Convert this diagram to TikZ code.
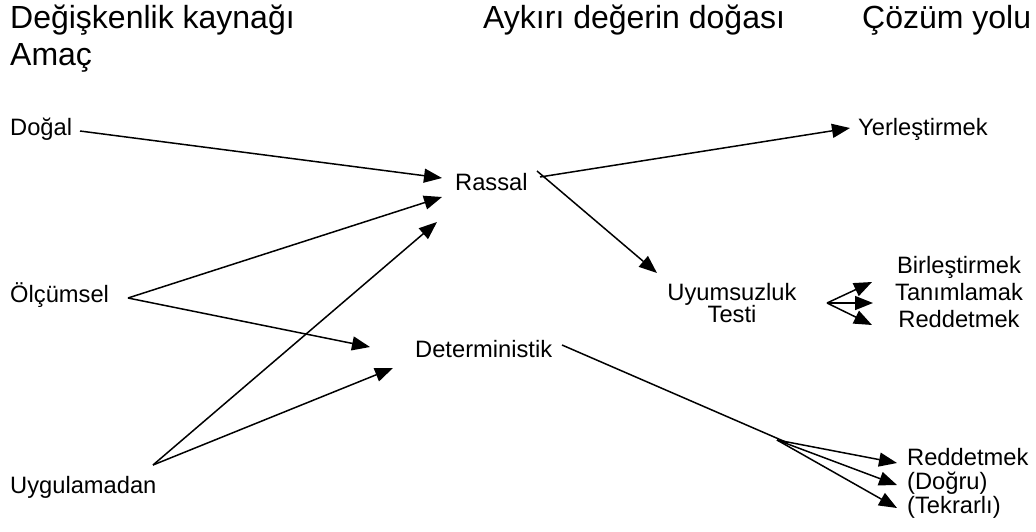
\documentclass[tikz,border=0pt]{standalone}
\usepackage{fontspec}
\setmainfont{Liberation Sans}
\usetikzlibrary{arrows.meta}
\begin{document}
\begin{tikzpicture}[x=1pt,y=-1pt,
  hdr/.style={font=\fontsize{32}{38}\selectfont, inner sep=0pt, anchor=base west},
  lbl/.style={font=\fontsize{23.7}{28}\selectfont, inner sep=0pt, anchor=base west},
  clbl/.style={font=\fontsize{23.7}{28}\selectfont, inner sep=0pt, anchor=base},
  arr/.style={-{Triangle[length=18pt,width=14pt]}, line width=1.5pt},
  ln/.style={line width=1.5pt}]
\useasboundingbox (0,0) rectangle (1036,531);
% headers
\node[hdr] (h1) at (10,28) {Değişkenlik kaynağı};
\node[hdr] (h2) at (10,65) {Amaç};
\node[hdr] (h3) at (483,28) {Aykırı değerin doğası};
\node[hdr] (h4) at (862,28) {Çözüm yolu};
% sources
\node[lbl] (dogal) at (10,135) {Doğal};
\node[lbl] (olcum) at (10,302) {Ölçümsel};
\node[lbl] (uygul) at (10,493) {Uygulamadan};
% nature
\node[lbl] (rassal) at (455,190) {Rassal};
\node[lbl] (determ) at (415,357) {Deterministik};
% solutions
\node[lbl] (yerles) at (858,135) {Yerleştirmek};
\node[clbl] (uyum) at (732,300) {Uyumsuzluk};
\node[clbl] (testi) at (732,322) {Testi};
\node[clbl] (birles) at (959,273) {Birleştirmek};
\node[clbl] (tanim) at (959,300) {Tanımlamak};
\node[clbl] (redd1) at (959,327) {Reddetmek};
\node[lbl] (redd2) at (907,465) {Reddetmek};
\node[lbl] (dogru) at (907,489) {(Doğru)};
\node[lbl] (tekrar) at (907,513) {(Tekrarlı)};
% connector end points
\coordinate (dS) at (80,131);
\coordinate (oS) at (128,298);
\coordinate (uS) at (153,465);
\coordinate (rT1) at (442,178);
\coordinate (rT2) at (442,197);
\coordinate (rT3) at (437,222);
\coordinate (dT1) at (370,347);
\coordinate (dT2) at (393,368);
\coordinate (rS1) at (540,177);
\coordinate (rS2) at (537,171);
\coordinate (yT) at (850,128);
\coordinate (uT) at (657,273);
\coordinate (uyS) at (827,303);
\coordinate (bT) at (872,282);
\coordinate (tT) at (873,303);
\coordinate (reT) at (872,325);
\coordinate (deS) at (562,345);
\coordinate (deE) at (788,443);
\coordinate (brS) at (777,440);
\coordinate (r2T) at (897,463);
\coordinate (dgT) at (897,485);
\coordinate (tkT) at (897,508);
% connectors
\draw[arr] (dS) -- (rT1);
\draw[arr] (oS) -- (rT2);
\draw[arr] (oS) -- (dT1);
\draw[arr] (uS) -- (rT3);
\draw[arr] (uS) -- (dT2);
\draw[arr] (rS1) -- (yT);
\draw[arr] (rS2) -- (uT);
\draw[arr] (uyS) -- (bT);
\draw[arr] (uyS) -- (tT);
\draw[arr] (uyS) -- (reT);
\draw[ln] (deS) -- (deE);
\draw[arr] (brS) -- (r2T);
\draw[arr] (brS) -- (dgT);
\draw[arr] (brS) -- (tkT);
\end{tikzpicture}
\end{document}
